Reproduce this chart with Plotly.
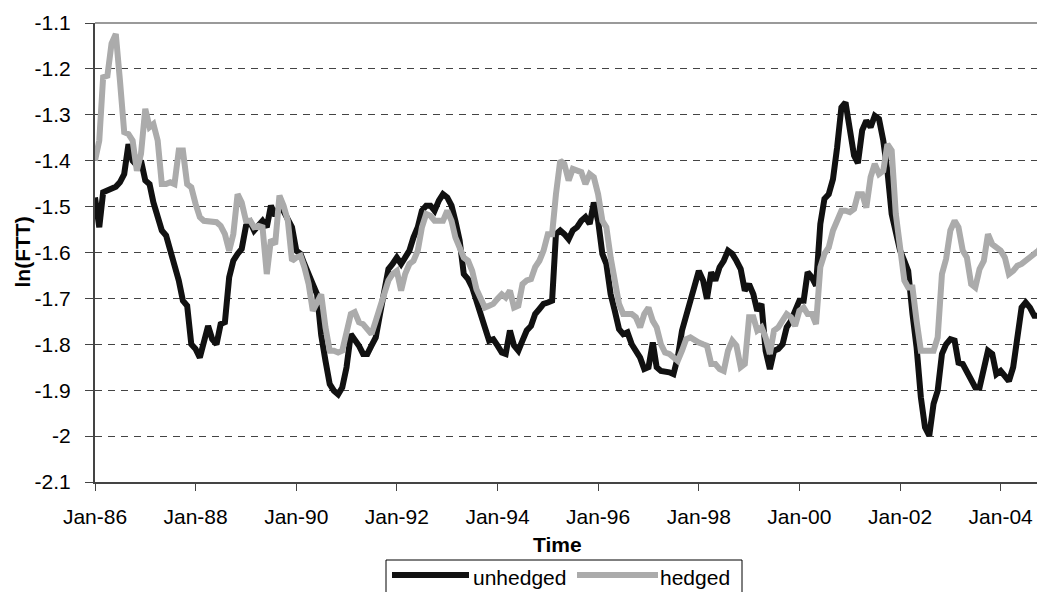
import pandas as pd
import plotly.graph_objects as go

start_month = "1986-01-01"
n_months = 227

unhedged = [
    -1.480, -1.545, -1.469, -1.465, -1.462, -1.457, -1.447, -1.429, -1.364, -1.400,
    -1.410, -1.400, -1.443, -1.451, -1.491, -1.523, -1.552, -1.563, -1.596, -1.621,
    -1.661, -1.705, -1.716, -1.800, -1.810, -1.829, -1.800, -1.760, -1.789, -1.800,
    -1.756, -1.752, -1.654, -1.618, -1.603, -1.592, -1.542, -1.534, -1.552, -1.542,
    -1.531, -1.545, -1.498, -1.520, -1.500, -1.510, -1.530, -1.545, -1.596, -1.603,
    -1.625, -1.651, -1.669, -1.691, -1.780, -1.836, -1.887, -1.901, -1.909, -1.894,
    -1.850, -1.778, -1.789, -1.803, -1.821, -1.821, -1.803, -1.785, -1.734, -1.676,
    -1.636, -1.625, -1.611, -1.625, -1.611, -1.596, -1.567, -1.545, -1.509, -1.498,
    -1.498, -1.509, -1.487, -1.473, -1.480, -1.498, -1.531, -1.574, -1.647, -1.658,
    -1.676, -1.709, -1.734, -1.763, -1.792, -1.789, -1.803, -1.818, -1.821, -1.770,
    -1.803, -1.814, -1.792, -1.770, -1.760, -1.734, -1.723, -1.712, -1.709, -1.705,
    -1.560, -1.552, -1.560, -1.571, -1.552, -1.545, -1.531, -1.523, -1.538, -1.491,
    -1.531, -1.603, -1.625, -1.691, -1.727, -1.767, -1.778, -1.774, -1.800, -1.814,
    -1.829, -1.854, -1.850, -1.796, -1.850, -1.858, -1.858, -1.861, -1.865, -1.829,
    -1.770, -1.738, -1.712, -1.680, -1.640, -1.661, -1.701, -1.643, -1.661, -1.632,
    -1.618, -1.596, -1.603, -1.618, -1.636, -1.683, -1.669, -1.691, -1.727, -1.712,
    -1.814, -1.854, -1.814, -1.810, -1.800, -1.763, -1.749, -1.727, -1.705, -1.705,
    -1.643, -1.654, -1.672, -1.538, -1.483, -1.473, -1.440, -1.371, -1.284, -1.273,
    -1.334, -1.389, -1.405, -1.334, -1.313, -1.327, -1.302, -1.309, -1.356, -1.422,
    -1.516, -1.560, -1.596, -1.618, -1.640, -1.734, -1.807, -1.916, -1.981, -1.999,
    -1.930, -1.901, -1.821, -1.800, -1.789, -1.792, -1.840, -1.843, -1.858, -1.876,
    -1.894, -1.894, -1.858, -1.814, -1.821, -1.865, -1.858, -1.869, -1.880, -1.850,
    -1.785, -1.720, -1.709, -1.720, -1.738, -1.738, -1.727,
]

hedged = [
    -1.400, -1.356, -1.218, -1.215, -1.145, -1.124, -1.225, -1.338, -1.342, -1.356,
    -1.422, -1.385, -1.287, -1.327, -1.320, -1.356, -1.451, -1.451, -1.447, -1.451,
    -1.378, -1.378, -1.451, -1.458, -1.494, -1.523, -1.531, -1.531, -1.531, -1.534,
    -1.542, -1.560, -1.596, -1.560, -1.473, -1.491, -1.531, -1.531, -1.545, -1.542,
    -1.545, -1.647, -1.572, -1.582, -1.476, -1.498, -1.531, -1.618, -1.611, -1.607,
    -1.632, -1.669, -1.727, -1.705, -1.691, -1.763, -1.814, -1.814, -1.818, -1.814,
    -1.767, -1.734, -1.730, -1.752, -1.756, -1.770, -1.778, -1.749, -1.720, -1.691,
    -1.661, -1.647, -1.640, -1.683, -1.647, -1.625, -1.618, -1.596, -1.545, -1.516,
    -1.520, -1.531, -1.531, -1.531, -1.509, -1.531, -1.567, -1.589, -1.611, -1.618,
    -1.640, -1.680, -1.698, -1.720, -1.716, -1.712, -1.701, -1.691, -1.698, -1.683,
    -1.720, -1.716, -1.669, -1.661, -1.658, -1.632, -1.618, -1.596, -1.560, -1.560,
    -1.473, -1.400, -1.407, -1.443, -1.418, -1.422, -1.425, -1.451, -1.429, -1.436,
    -1.473, -1.531, -1.545, -1.611, -1.669, -1.712, -1.734, -1.734, -1.734, -1.741,
    -1.763, -1.734, -1.720, -1.749, -1.763, -1.800, -1.818, -1.821, -1.829, -1.836,
    -1.814, -1.789, -1.785, -1.792, -1.796, -1.800, -1.803, -1.843, -1.843, -1.854,
    -1.858, -1.814, -1.792, -1.803, -1.850, -1.843, -1.741, -1.741, -1.770, -1.763,
    -1.785, -1.821, -1.770, -1.763, -1.749, -1.734, -1.741, -1.760, -1.727, -1.720,
    -1.734, -1.734, -1.756, -1.632, -1.603, -1.589, -1.552, -1.531, -1.509, -1.509,
    -1.512, -1.505, -1.473, -1.473, -1.502, -1.436, -1.407, -1.429, -1.422, -1.364,
    -1.378, -1.516, -1.596, -1.661, -1.676, -1.676, -1.749, -1.814, -1.814, -1.814,
    -1.814, -1.785, -1.647, -1.614, -1.552, -1.531, -1.545, -1.596, -1.611, -1.669,
    -1.676, -1.636, -1.618, -1.560, -1.582, -1.589, -1.596, -1.611, -1.647, -1.640,
    -1.629, -1.625, -1.618, -1.611, -1.603, -1.596, -1.582,
]

x_tick_dates = ["1986-01-01", "1988-01-01", "1990-01-01", "1992-01-01", "1994-01-01",
                "1996-01-01", "1998-01-01", "2000-01-01", "2002-01-01", "2004-01-01"]
x_tick_labels = ["Jan-86", "Jan-88", "Jan-90", "Jan-92", "Jan-94",
                 "Jan-96", "Jan-98", "Jan-00", "Jan-02", "Jan-04"]
y_tick_vals = [-2.1, -2.0, -1.9, -1.8, -1.7, -1.6, -1.5, -1.4, -1.3, -1.2, -1.1]
y_tick_labels = ["-2.1", "-2", "-1.9", "-1.8", "-1.7", "-1.6", "-1.5", "-1.4", "-1.3", "-1.2", "-1.1"]
series_names = ["unhedged", "hedged"]

dates = pd.date_range(start_month, periods=n_months, freq="MS")

FONT = "Liberation Sans, Arial, sans-serif"
BLACK = "#111111"
GREY = "#ababab"

# The page body has an 8px default margin; the figure is sized so that it
# fills the 1045x592 window from (8, 8).
OFF = 8
WIN_W, WIN_H = 1045, 592
W, H = WIN_W - OFF, WIN_H - OFF
# plot-area edges in window pixels
PL, PR, PT, PB = 95, 1045, 23, 482
L, R, T, B = PL - OFF, WIN_W - PR, PT - OFF, WIN_H - PB
PW, PH = PR - PL, PB - PT


def px_x(x):
    """window pixel x -> paper coordinate"""
    return (x - PL) / PW


def px_y(y):
    """window pixel y -> paper coordinate"""
    return (PB - y) / PH


fig = go.Figure()
fig.add_trace(go.Scatter(x=dates, y=unhedged, mode="lines", name=series_names[0],
                         line=dict(color=BLACK, width=6), showlegend=False))
fig.add_trace(go.Scatter(x=dates, y=hedged, mode="lines", name=series_names[1],
                         line=dict(color=GREY, width=6), showlegend=False))

fig.update_layout(
    width=W, height=H,
    margin=dict(l=L, r=R, t=T, b=B, pad=0),
    paper_bgcolor="white", plot_bgcolor="white",
    font=dict(family=FONT, size=21, color="black"),
    showlegend=False,
)

fig.update_xaxes(
    type="date",
    range=["1986-01-01", "2004-11-18"],
    tickvals=x_tick_dates, ticktext=x_tick_labels,
    showgrid=False, zeroline=False,
    showline=True, linecolor="#444444", linewidth=2,
    ticks="outside", ticklen=7, tickwidth=1, tickcolor="#444444",
    ticklabelstandoff=8,
    tickfont=dict(family=FONT, size=21, color="black"),
)
fig.update_yaxes(
    range=[-2.1, -1.1],
    tickvals=y_tick_vals, ticktext=y_tick_labels,
    showgrid=True, gridcolor="#444444", gridwidth=1, griddash="7px,6px",
    zeroline=False,
    showline=True, linecolor="#444444", linewidth=2,
    ticks="outside", ticklen=8, tickwidth=1, tickcolor="#444444",
    ticklabelstandoff=10,
    tickfont=dict(family=FONT, size=21, color="black"),
)

shapes = [
    # top border of plot area
    dict(type="line", xref="paper", yref="paper", x0=0, x1=1, y0=1, y1=1,
         line=dict(color="#9a9a9a", width=2), layer="above"),
    # legend box
    dict(type="rect", xref="paper", yref="paper",
         x0=px_x(386), x1=px_x(742), y0=px_y(560), y1=px_y(600),
         line=dict(color="black", width=1), fillcolor="white", layer="above"),
    # legend samples
    dict(type="line", xref="paper", yref="paper",
         x0=px_x(392), x1=px_x(469), y0=px_y(575), y1=px_y(575),
         line=dict(color=BLACK, width=6), layer="above"),
    dict(type="line", xref="paper", yref="paper",
         x0=px_x(577), x1=px_x(658), y0=px_y(575), y1=px_y(575),
         line=dict(color=GREY, width=6), layer="above"),
]

annotations = [
    dict(text="<b>ln(FTT)</b>", xref="paper", yref="paper",
         x=px_x(22), y=0.5, xanchor="center", yanchor="middle",
         textangle=-90, showarrow=False, font=dict(family=FONT, size=21, color="black")),
    dict(text="<b>Time</b>", xref="paper", yref="paper",
         x=px_x(557), y=px_y(544), xanchor="center", yanchor="middle",
         showarrow=False, font=dict(family=FONT, size=21, color="black")),
    dict(text=series_names[0], xref="paper", yref="paper",
         x=px_x(471), y=px_y(577), xanchor="left", yanchor="middle",
         showarrow=False, font=dict(family=FONT, size=21, color="black")),
    dict(text=series_names[1], xref="paper", yref="paper",
         x=px_x(658), y=px_y(577), xanchor="left", yanchor="middle",
         showarrow=False, font=dict(family=FONT, size=21, color="black")),
]

fig.update_layout(shapes=shapes, annotations=annotations)

fig.write_html("out.html")
